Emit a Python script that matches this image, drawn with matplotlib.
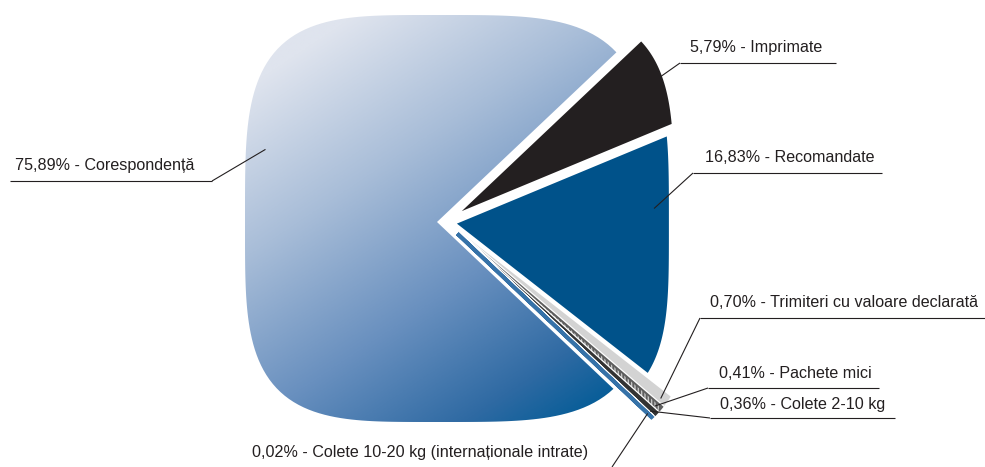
import numpy as np
import matplotlib
matplotlib.use("Agg")
import matplotlib.pyplot as plt
from matplotlib.path import Path
from matplotlib.patches import PathPatch
from matplotlib import patheffects as pe
from matplotlib.colors import LinearSegmentedColormap

# ---------------- data ----------------
categories = ["Corespondență", "Colete 10-20 kg (internaționale intrate)", "Colete 2-10 kg",
              "Pachete mici", "Trimiteri cu valoare declarată", "Recomandate", "Imprimate"]
values = [75.89, 0.02, 0.36, 0.41, 0.70, 16.83, 5.79]
value_labels = ["75,89%", "0,02%", "0,36%", "0,41%", "0,70%", "16,83%", "5,79%"]

# ---------------- style ----------------
W, H = 985, 467
colors = [None, "#3672a8", "#333333", "#5e5e5e", "#d3d3d3", "#00528a", "#231f20"]
explode_px = [8, 17, 17, 17, 17, 12, 20]
radial_scale = [1.0, 1.1, 1.1, 1.1, 1.1, 1.0, 1.0]
# squircle half-extents (pixels) and exponent
A_R, A_L, B_T, B_B, NEXP = 212, 192, 207, 200, 3.8
PIE_CENTER = (445, 222)  # pixel coords (y down)
TXT = "#231f20"
FONT = "Liberation Sans"
FS = 11.6


def Y(y):
    return H - y


def sq_r(theta):
    c, s = np.cos(theta), np.sin(theta)
    a = np.where(c >= 0, A_R, A_L)
    b = np.where(s >= 0, B_T, B_B)
    return (np.abs(c / a) ** NEXP + np.abs(s / b) ** NEXP) ** (-1.0 / NEXP)


def sector_path(center, t1, t2, scale=1.0, n=200):
    th = np.radians(np.linspace(t1, t2, n))
    r = sq_r(th) * scale
    xs = center[0] + r * np.cos(th)
    ys = center[1] + r * np.sin(th)
    verts = np.vstack([[center], np.column_stack([xs, ys]), [center]])
    codes = [Path.MOVETO] + [Path.LINETO] * n + [Path.CLOSEPOLY]
    return Path(verts, codes)


fig = plt.figure(figsize=(W / 100, H / 100), dpi=100)
ax = fig.add_axes([0, 0, 1, 1])

cx, cy = PIE_CENTER[0], Y(PIE_CENTER[1])
# explode is applied in data units (pixels here)
wedges, _ = ax.pie(values, startangle=43.4, counterclock=True, radius=100,
                   center=(cx, cy), explode=explode_px,
                   wedgeprops=dict(linewidth=0))

shapes = []
for i, w in enumerate(wedges):
    t1, t2, c = w.theta1, w.theta2, w.center
    w.set_visible(False)
    path = sector_path(c, t1, t2, radial_scale[i])
    shapes.append((path, t1, t2, c))

# big slice with gradient
p0 = shapes[0][0]
big = PathPatch(p0, facecolor="none", edgecolor="none", zorder=2)
ax.add_patch(big)
xs = np.linspace(220, 680, 400)
ys = np.linspace(0, H, 400)
XX, YY = np.meshgrid(xs, ys)
ypix = H - YY
t = np.clip((XX * 0.8 + ypix * 1.2 - 300) / (980 - 300), 0, 1)
cmap = LinearSegmentedColormap.from_list(
    "g", [(0, "#dfe4ee"), (0.3, "#a8bdd8"), (0.6, "#6990bf"), (0.85, "#2f6aa3"),
          (1.0, "#005b96")])
img = cmap(t)
im = ax.imshow(img, extent=[xs[0], xs[-1], ys[0], ys[-1]], origin="lower",
               zorder=2, interpolation="bilinear")
im.set_clip_path(big)

# other slices
for i in range(1, len(values)):
    path = shapes[i][0]
    if i in (5, 6):
        patch = PathPatch(path, facecolor=colors[i], edgecolor="none", zorder=3)
        ax.add_patch(patch)
    else:
        kw = dict(facecolor=colors[i], edgecolor="none", zorder=4 + (5 - i))
        if i == 3:
            kw = dict(facecolor=colors[i], edgecolor="#c4c4c4", hatch="|||||",
                      linewidth=0, zorder=4 + (5 - i))
        patch = PathPatch(path, **kw)
        ax.add_patch(patch)
        patch.set_path_effects([pe.Stroke(linewidth=4.6, foreground="white"),
                                pe.Stroke(linewidth=2.8, foreground=colors[i]),
                                pe.Normal()])

# ---------------- labels ----------------
# (wedge index, angular fraction, radial fraction, text x, baseline y, line x0, line x1, line y)
label_layout = [
    (0, 0.416, 0.90, 15, 170, 212, 10, 181),
    (6, 0.55, 0.95, 690, 52, 680, 836, 63),
    (5, 0.70, 0.93, 705, 162, 693, 882, 173),
    (4, 0.5, 0.98, 710, 307, 700, 985, 318),
    (3, 0.5, 0.98, 719, 378, 708, 879, 388),
    (2, 0.5, 0.98, 720, 409, 710, 895, 418),
    (1, 0.5, 0.98, 252, 457, 612, None, 467),
]
for idx, fa, fr, tx, ty, lx0, lx1, ly in label_layout:
    path, t1, t2, c = shapes[idx]
    th = np.radians(t1 + fa * (t2 - t1))
    r = float(sq_r(th)) * radial_scale[idx] * fr
    axp, ayp = c[0] + r * np.cos(th), c[1] + r * np.sin(th)
    ax.plot([axp, lx0], [ayp, Y(ly)], color=TXT, lw=0.8, zorder=10,
            solid_capstyle="butt")
    if lx1 is not None:
        ax.plot([lx0, lx1], [Y(ly), Y(ly)], color=TXT, lw=0.8, zorder=10,
                solid_capstyle="butt")
    ax.text(tx, Y(ty), f"{value_labels[idx]} - {categories[idx]}", ha="left",
            va="baseline", fontsize=FS, family=FONT, color=TXT, zorder=11)

ax.set_xlim(0, W)
ax.set_ylim(0, H)
ax.set_aspect("auto")
ax.axis("off")
fig.savefig("out.png", dpi=100, facecolor="white")
